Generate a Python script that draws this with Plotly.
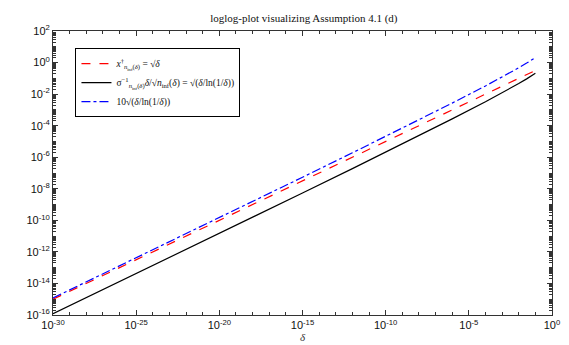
import plotly.graph_objects as go

# delta values (x) sampled along the curves
delta = [1e-30, 1e-27, 1e-24, 1e-21, 1e-18, 1e-15, 1e-12, 1e-9, 1e-6, 1e-4, 1e-3, 1e-2, 3e-2, 1e-1]
# red dashed: x_dagger = sqrt(delta)
red_vals = [1.0e-15, 3.16e-14, 1.0e-12, 3.16e-11, 1.0e-9, 3.16e-8, 1.0e-6, 3.16e-5,
            1.0e-3, 1.0e-2, 3.16e-2, 0.100, 0.173, 0.316]
# black solid: sqrt(delta/ln(1/delta))
black_vals = [1.20e-16, 4.01e-15, 1.34e-13, 4.44e-12, 1.55e-10, 5.38e-9, 1.90e-7, 6.92e-6,
              2.69e-4, 3.29e-3, 1.20e-2, 4.66e-2, 9.25e-2, 0.208]
# blue dash-dot: 10*sqrt(delta/ln(1/delta))
blue_vals = [1.20e-15, 4.01e-14, 1.34e-12, 4.44e-11, 1.55e-9, 5.38e-8, 1.90e-6, 6.92e-5,
             2.69e-3, 3.29e-2, 0.120, 0.466, 0.925, 2.08]

x_major = [-30, -25, -20, -15, -10, -5, 0]
y_major = [2, 0, -2, -4, -6, -8, -10, -12, -14, -16]

names = [
    "<i>x</i><sup>†</sup><sub><i>n</i><sub>inf</sub>(<i>δ</i>)</sub> = √<i>δ</i>",
    "σ<sup>−1</sup><sub><i>n</i><sub>inf</sub>(<i>δ</i>)</sub><i>δ</i>/√<i>n</i><sub>inf</sub>(<i>δ</i>) = √(<i>δ</i>/ln(1/<i>δ</i>))",
    "10√(<i>δ</i>/ln(1/<i>δ</i>))",
]

fig = go.Figure()
fig.add_trace(go.Scatter(x=delta, y=red_vals, mode="lines", name=names[0],
                         line=dict(color="#ff0000", width=1.2, dash="dash")))
fig.add_trace(go.Scatter(x=delta, y=black_vals, mode="lines", name=names[1],
                         line=dict(color="#000000", width=1.2)))
fig.add_trace(go.Scatter(x=delta, y=blue_vals, mode="lines", name=names[2],
                         line=dict(color="#0000ff", width=1.2, dash="dashdot")))

x_minor = [10 ** e for e in range(-30, 1) if e % 5 != 0]
y_minor = []
for e in range(-16, 2):
    for m in range(1, 10):
        if m == 1 and e % 2 == 0:
            continue
        y_minor.append(m * 10 ** e)

tickfont = dict(family="Liberation Sans, Arial, sans-serif", size=11, color="#111")

fig.update_layout(
    width=569, height=345,
    margin=dict(l=45, r=25, t=23, b=34),
    plot_bgcolor="white", paper_bgcolor="white",
    title=dict(text="loglog-plot visualizing Assumption 4.1 (d)",
               font=dict(family="Liberation Serif, Times New Roman, serif", size=11, color="#111"),
               x=0.52, xanchor="center", y=0.97, yanchor="middle"),
    showlegend=True,
    legend=dict(x=0.045, y=0.94, xanchor="left", yanchor="top",
                bgcolor="white", bordercolor="#000", borderwidth=1,
                font=dict(family="Liberation Serif, Times New Roman, serif", size=9.5, color="#111"),
                tracegroupgap=0, itemwidth=30),
    xaxis=dict(type="log", range=[-30, 0], showgrid=False, zeroline=False,
               showline=True, linecolor="#333", linewidth=1, mirror="ticks",
               ticks="inside", ticklen=5, tickcolor="#333",
               tickmode="array", tickvals=[10 ** e for e in x_major],
               ticktext=[f"10<sup>{e}</sup>" for e in x_major], tickfont=tickfont,
               minor=dict(tickmode="array", tickvals=x_minor, ticks="inside", ticklen=3, tickcolor="#333"),
               title=dict(text="<i>δ</i>", font=dict(family="Liberation Serif, serif", size=11, color="#333"),
                          standoff=2)),
    yaxis=dict(type="log", range=[-16, 2], showgrid=False, zeroline=False,
               showline=True, linecolor="#333", linewidth=1, mirror="ticks",
               ticks="inside", ticklen=5, tickcolor="#333",
               tickmode="array", tickvals=[10 ** e for e in y_major],
               ticktext=[f"10<sup>{e}</sup>" for e in y_major], tickfont=tickfont,
               minor=dict(tickmode="array", tickvals=y_minor, ticks="inside", ticklen=3, tickcolor="#333")),
)

fig.write_html("out.html")
